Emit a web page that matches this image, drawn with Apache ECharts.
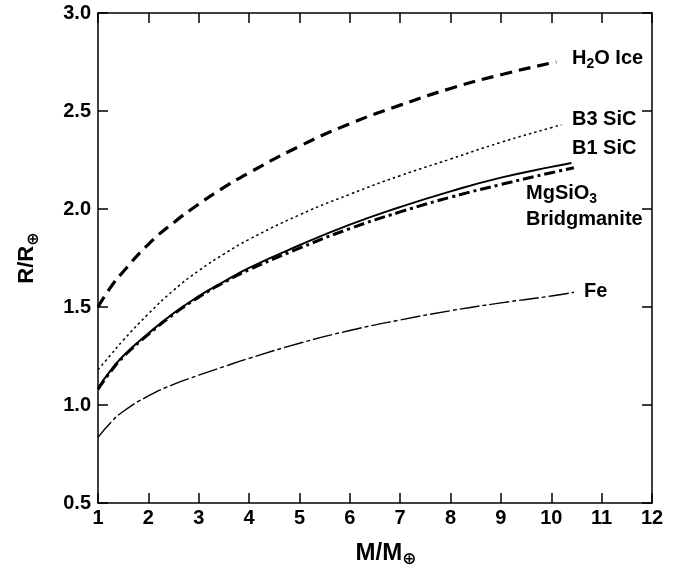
<!DOCTYPE html>
<html>
<head>
<meta charset="utf-8">
<script src="https://cdn.jsdelivr.net/npm/echarts@6/dist/echarts.min.js"></script>
<style>
  html, body { margin: 0; padding: 0; background: #fff; }
  #main { width: 684px; height: 573px; }
</style>
</head>
<body>
<div id="main"></div>
<script>
// mass in Earth masses, radius in Earth radii
var massH2O = [1, 1.25, 1.5, 2, 2.5, 3, 3.5, 4, 5, 6, 7, 8, 9, 10, 10.1];
var radiusH2O = [1.50, 1.60, 1.68, 1.82, 1.93, 2.025, 2.11, 2.185, 2.32, 2.435, 2.53, 2.615, 2.685, 2.745, 2.75];

var massB3 = [1, 1.25, 1.5, 2, 2.5, 3, 3.5, 4, 5, 6, 7, 8, 9, 10, 10.2];
var radiusB3 = [1.18, 1.255, 1.33, 1.465, 1.585, 1.685, 1.77, 1.845, 1.97, 2.075, 2.17, 2.255, 2.34, 2.415, 2.43];

var massB1 = [1, 1.25, 1.5, 2, 2.5, 3, 3.5, 4, 5, 6, 7, 8, 9, 10, 10.4];
var radiusB1 = [1.088, 1.175, 1.25, 1.365, 1.468, 1.555, 1.63, 1.70, 1.815, 1.92, 2.01, 2.09, 2.16, 2.215, 2.235];

var massMg = [1, 1.25, 1.5, 2, 2.5, 3, 3.5, 4, 5, 6, 7, 8, 9, 10, 10.45];
var radiusMg = [1.08, 1.17, 1.245, 1.36, 1.463, 1.55, 1.625, 1.69, 1.80, 1.90, 1.985, 2.06, 2.125, 2.185, 2.21];

var massFe = [1, 1.25, 1.5, 2, 2.5, 3, 3.5, 4, 5, 6, 7, 8, 9, 10, 10.45];
var radiusFe = [0.835, 0.91, 0.967, 1.046, 1.105, 1.152, 1.196, 1.238, 1.315, 1.38, 1.434, 1.481, 1.521, 1.556, 1.575];

var xTicks = [1, 2, 3, 4, 5, 6, 7, 8, 9, 10, 11, 12];

function pairs(xs, ys) {
  return xs.map(function (x, i) { return [x, ys[i]]; });
}

var font = "'Liberation Sans', Arial, Helvetica, sans-serif";
var sub = { fontSize: 14, fontWeight: 'bold', fontFamily: font, color: '#000', padding: [12, 0, 0, 0] };
var labelStyle = { fontSize: 20, fontWeight: 'bold', fontFamily: font, fill: '#000', rich: { sub: sub } };

function line(name, xs, ys, width, dash) {
  return {
    name: name,
    type: 'line',
    data: pairs(xs, ys),
    smooth: 0.5,
    showSymbol: false,
    lineStyle: { color: '#000', width: width, type: dash, cap: 'butt' }
  };
}

var axisLine = { lineStyle: { color: '#000', width: 1.5 } };
var axisTick = { inside: true, length: 10, lineStyle: { color: '#000', width: 1.5 } };

var chart = echarts.init(document.getElementById('main'));

chart.setOption({
  animation: false,
  backgroundColor: '#fff',
  grid: { left: 98, right: 32, top: 13, bottom: 57 },
  xAxis: [{
    type: 'value', min: 1, max: 12, interval: 1,
    name: 'M/M{s|⊕}', nameLocation: 'middle', nameGap: 36,
    nameTextStyle: {
      fontSize: 24, fontWeight: 'bold', fontFamily: font, color: '#000', padding: [0, 0, 0, 22],
      rich: { s: { fontSize: 17, fontFamily: 'DejaVu Sans', color: '#000', padding: [12, 0, 0, 0] } }
    },
    axisLine: axisLine,
    axisTick: axisTick,
    axisLabel: {
      margin: 5, fontSize: 20, fontWeight: 'bold', fontFamily: font, color: '#000',
      formatter: function (v) { return xTicks.indexOf(v) >= 0 ? String(v) : ''; }
    },
    splitLine: { show: false }
  }, {
    type: 'value', min: 1, max: 12, interval: 1, position: 'top',
    axisLine: axisLine, axisTick: axisTick,
    axisLabel: { show: false },
    splitLine: { show: false }
  }],
  yAxis: [{
    type: 'value', min: 0.5, max: 3.0, interval: 0.5,
    name: 'R/R{s|⊕}', nameLocation: 'middle', nameGap: 56, nameRotate: 90,
    nameTextStyle: {
      fontSize: 22, fontWeight: 'bold', fontFamily: font, color: '#000',
      rich: { s: { fontSize: 16, fontFamily: 'DejaVu Sans', color: '#000', padding: [14, 0, 0, 0] } }
    },
    axisLine: axisLine,
    axisTick: axisTick,
    axisLabel: {
      margin: 7, fontSize: 20, fontWeight: 'bold', fontFamily: font, color: '#000',
      formatter: function (v) { return v.toFixed(1); }
    },
    splitLine: { show: false }
  }, {
    type: 'value', min: 0.5, max: 3.0, interval: 0.5, position: 'right',
    axisLine: axisLine, axisTick: axisTick,
    axisLabel: { show: false },
    splitLine: { show: false }
  }],
  series: [
    line('H2O Ice', massH2O, radiusH2O, 3.2, [12, 7]),
    line('B3 SiC', massB3, radiusB3, 1.5, [2.5, 3]),
    line('B1 SiC', massB1, radiusB1, 2, 'solid'),
    line('MgSiO3 Bridgmanite', massMg, radiusMg, 3, [11, 4, 3, 4]),
    line('Fe', massFe, radiusFe, 1.4, [20, 3, 4, 3])
  ],
  graphic: [
    { type: 'text', left: 572, top: 48, style: Object.assign({ text: 'H{sub|2}O Ice' }, labelStyle) },
    { type: 'text', left: 572, top: 109, style: Object.assign({ text: 'B3 SiC' }, labelStyle) },
    { type: 'text', left: 572, top: 138, style: Object.assign({ text: 'B1 SiC' }, labelStyle) },
    { type: 'text', left: 526, top: 183, style: Object.assign({ text: 'MgSiO{sub|3}' }, labelStyle) },
    { type: 'text', left: 526, top: 209, style: Object.assign({ text: 'Bridgmanite' }, labelStyle) },
    { type: 'text', left: 584, top: 281, style: Object.assign({ text: 'Fe' }, labelStyle) }
  ]
});
</script>
</body>
</html>
